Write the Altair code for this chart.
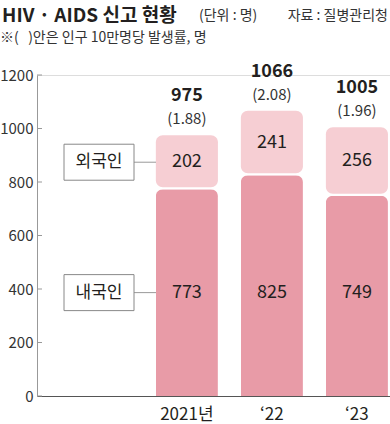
import altair as alt
import pandas as pd

years = ["2021년", "‘22", "‘23"]
domestic = [773, 825, 749]
foreign = [202, 241, 256]
totals = [975, 1066, 1005]
rates = ["(1.88)", "(2.08)", "(1.96)"]
y_ticks = [0, 200, 400, 600, 800, 1000, 1200]
legend_names = ["외국인", "내국인"]

FONT = "Noto Sans CJK KR"
DOM_C = "#e89ba7"
FOR_C = "#f6ced3"
TXT = "#231f20"

df = pd.DataFrame({"year": years, "domestic": domestic, "foreign": foreign,
                   "total": totals, "rate": rates})
df["fmid"] = df["domestic"] + df["foreign"] / 2
# inner labels of the domestic segment sit on one common row
df["drow"] = df["domestic"][0] / 2

legend_df = pd.DataFrame({"name": legend_names,
                          "pos": [df["fmid"][0], df["drow"][0]]})
tick_df = pd.DataFrame({"v": y_ticks})

yscale = alt.Scale(domain=[0, 1200], nice=False)
xenc = alt.X("year:N", sort=years, title=None,
             scale=alt.Scale(paddingInner=0.27, paddingOuter=0.711, align=0.983),
             axis=alt.Axis(labelAngle=0, ticks=False, labelFont=FONT, labelFontSize=17,
                           labelColor=TXT, labelPadding=10, domainColor="#555",
                           domainWidth=1.2))

base = alt.Chart(df)

dom_bar = base.mark_bar(color=DOM_C, cornerRadiusTopLeft=7, cornerRadiusTopRight=7).encode(
    x=xenc,
    y=alt.Y("domestic:Q", scale=yscale, title=None,
            axis=alt.Axis(values=y_ticks, format="d", tickSize=0, labelPadding=4, grid=False,
                          labelFont=FONT, labelFontSize=15, labelColor="#333",
                          domainColor="#999", domainWidth=1)),
)
for_bar = base.mark_bar(color=FOR_C, cornerRadius=7, y2Offset=-2).encode(
    x=xenc, y=alt.Y("total:Q", scale=yscale), y2="domestic:Q")

dom_lbl = base.mark_text(font=FONT, fontSize=18, color=TXT, baseline="middle").encode(
    x=xenc, y=alt.Y("drow:Q", scale=yscale), text="domestic:Q")
for_lbl = base.mark_text(font=FONT, fontSize=18, color=TXT, baseline="middle").encode(
    x=xenc, y=alt.Y("fmid:Q", scale=yscale), text="foreign:Q")
tot_lbl = base.mark_text(font=FONT, fontSize=18, fontWeight="bold", color=TXT,
                         baseline="middle", dy=-39).encode(
    x=xenc, y=alt.Y("total:Q", scale=yscale), text="total:Q")
rate_lbl = base.mark_text(font=FONT, fontSize=15, color="#333",
                          baseline="middle", dy=-16).encode(
    x=xenc, y=alt.Y("total:Q", scale=yscale), text="rate:N")

tick_rule = alt.Chart(tick_df).mark_rule(color="#999", strokeWidth=1).encode(
    x=alt.value(0), x2=alt.value(5), y=alt.Y("v:Q", scale=yscale))

leg = alt.Chart(legend_df)
leg_line = leg.mark_rule(color="#999", strokeWidth=1).encode(
    x=alt.value(97), x2=alt.value(119), y=alt.Y("pos:Q", scale=yscale))
leg_box = leg.mark_rect(fill="white", stroke="#888", strokeWidth=1,
                        yOffset=-18, y2Offset=18).encode(
    x=alt.value(27), x2=alt.value(97),
    y=alt.Y("pos:Q", scale=yscale), y2="pos:Q")
leg_txt = leg.mark_text(font=FONT, fontSize=17, color=TXT, baseline="middle").encode(
    x=alt.value(62), y=alt.Y("pos:Q", scale=yscale), text="name:N")

def txt(s, x, y, size, align="left", weight="normal", color=TXT):
    return alt.Chart(pd.DataFrame({"t": [s]})).mark_text(
        font=FONT, fontSize=size, fontWeight=weight, align=align,
        baseline="middle", color=color).encode(
        x=alt.value(x), y=alt.value(y), text="t:N")

title = txt("HIV · AIDS 신고 현황", -35, -59, 19, weight="bold")
unit = txt("(단위 : 명)", 162, -59, 14, color="#333")
src = txt("자료 : 질병관리청", 351, -59, 14, align="right", color="#333")
sub = txt("※(\u00a0\u00a0\u00a0)안은 인구 10만명당 발생률, 명", -37, -37, 14, color="#333")

chart = alt.layer(dom_bar, for_bar, dom_lbl, for_lbl, tot_lbl, rate_lbl, tick_rule,
                  leg_line, leg_box, leg_txt, title, unit, src, sub).properties(
    width=353, height=321,
    autosize=alt.AutoSizeParams(type="none"),
    padding={"left": 37, "top": 75, "right": 0, "bottom": 28},
).configure_view(stroke=None).configure(background="white")

chart.save("out.html", embed_options={"renderer": "svg", "actions": False})
